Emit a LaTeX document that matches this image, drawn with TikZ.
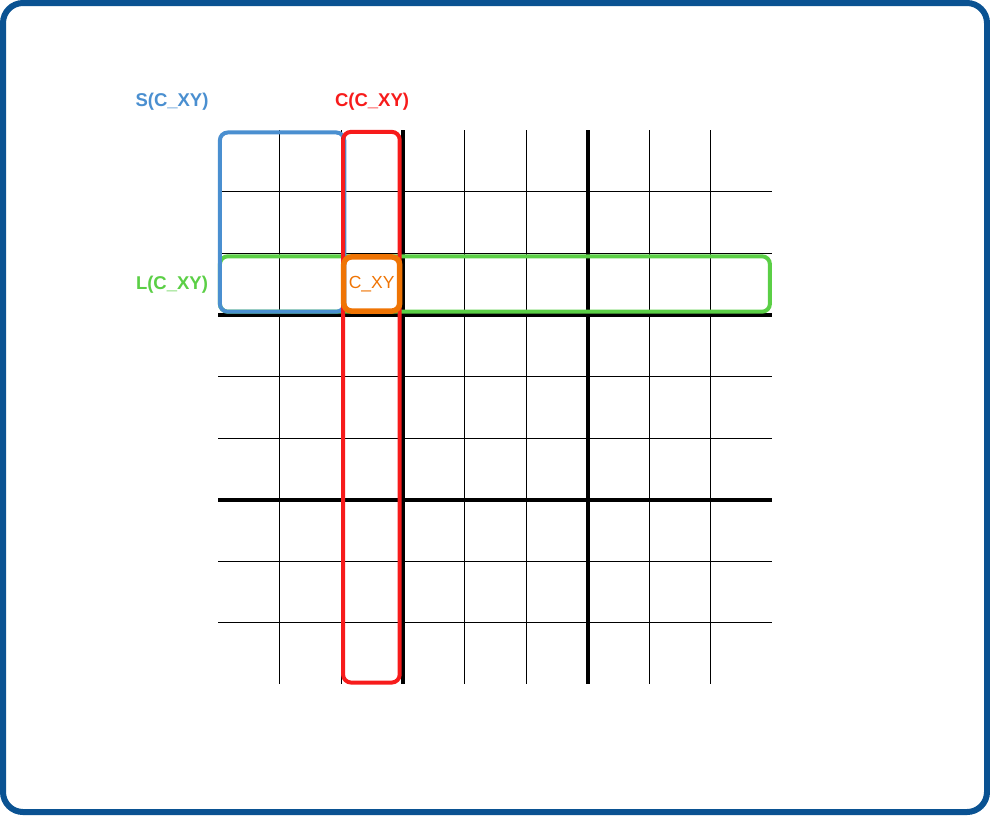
\documentclass[tikz,border=0pt]{standalone}
\usepackage{fontspec}
\setmainfont{Liberation Sans}
\usetikzlibrary{positioning}
\definecolor{frm}{HTML}{0A5292}
\definecolor{sqr}{HTML}{4A8FD0}
\definecolor{col}{HTML}{F71B1B}
\definecolor{lin}{HTML}{5BCF46}
\definecolor{cel}{HTML}{EF7404}
\tikzset{
  thin grid/.style={black, line width=1pt},
  thick grid/.style={black, line width=4pt},
  hl/.style={line width=4pt, rounded corners=8pt},
  lbl/.style={font=\bfseries\fontsize{18.5}{22}\selectfont, inner sep=0pt}}
\begin{document}
\begin{tikzpicture}[x=1pt, y=-1pt]
\useasboundingbox (0,0) rectangle (990,815);
\draw[frm, line width=6pt, rounded corners=20pt] (3,3) rectangle (987,812);
\begin{scope}[shift={(218,130)}, x=61.6pt, y=-61.6pt]
% grid
\foreach \i in {1,2,4,5,7,8} {
  \draw[thin grid] (\i,0) -- (\i,9);
  \draw[thin grid] (0,\i) -- (9,\i);
}
\foreach \i in {3,6} {
  \draw[thick grid] (\i,0) -- (\i,9);
  \draw[thick grid] (0,\i) -- (9,\i);
}
% highlighted units
\draw[hl, lin] (0.03,2.05) rectangle (8.96,2.95);
\draw[hl, sqr] (0.03,0.04) rectangle (2.05,2.95);
\draw[hl, col] (2.03,0.03) rectangle (2.95,8.97);
\draw[hl, cel, line width=5.5pt] (2.04,2.06) rectangle (2.95,2.94) node[midway, font=\fontsize{17.5}{20}\selectfont, inner sep=0pt] (cxy) {C\_XY};
\end{scope}
\node[lbl, text=sqr] (sl) at (172,102) {S(C\_XY)};
\node[lbl, text=col] (cl) at (372,102) {C(C\_XY)};
\node[lbl, text=lin] (ll) at (172,285) {L(C\_XY)};
\end{tikzpicture}
\end{document}
